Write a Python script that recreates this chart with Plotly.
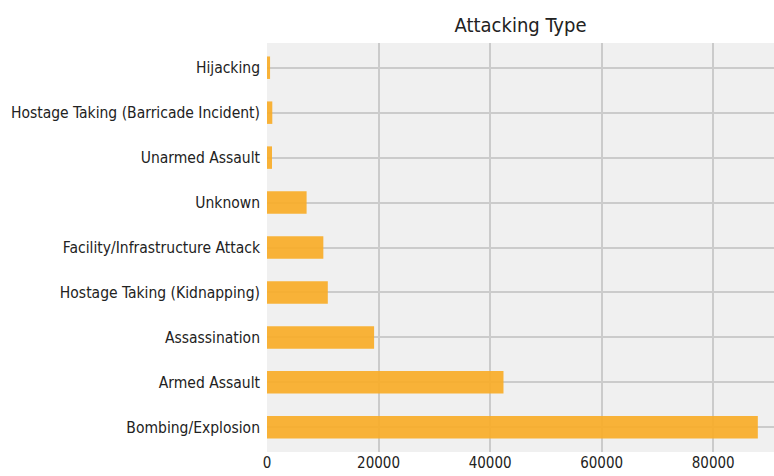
import plotly.graph_objects as go

categories = ["Bombing/Explosion", "Armed Assault", "Assassination",
              "Hostage Taking (Kidnapping)", "Facility/Infrastructure Attack",
              "Unknown", "Unarmed Assault", "Hostage Taking (Barricade Incident)",
              "Hijacking"]
counts = [88000, 42400, 19200, 10900, 10100, 7100, 900, 950, 550]
x_ticks = [0, 20000, 40000, 60000, 80000]

FONT = "DejaVu Sans Condensed, DejaVu Sans, sans-serif"

fig = go.Figure(go.Bar(
    y=list(range(len(categories))), x=counts, orientation="h", width=0.5,
    marker=dict(color="rgba(248,172,40,0.92)", line=dict(width=0)),
))
fig.update_layout(
    width=774, height=476,
    margin=dict(l=267, r=0, t=43, b=24, autoexpand=False),
    paper_bgcolor="white", plot_bgcolor="#f0f0f0",
    showlegend=False,
    title=dict(text="Attacking Type", x=(267 + 774) / 2 / 774, xanchor="center",
               y=1 - 25 / 476, yanchor="middle",
               font=dict(family=FONT, size=20, color="#222")),
    font=dict(family=FONT, size=15.5, color="#222"),
)
fig.update_xaxes(range=[0, 90900], tickvals=x_ticks, ticktext=[str(v) for v in x_ticks],
                 showgrid=True, gridcolor="#cbcbcb", gridwidth=1.5, zeroline=False,
                 ticks="", tickfont=dict(size=15), showline=False, automargin=False,
                 ticklabelstandoff=0)
fig.update_yaxes(range=[-0.55, 8.55], tickvals=list(range(len(categories))),
                 ticktext=categories, showgrid=True, gridcolor="#cbcbcb", gridwidth=1.5,
                 zeroline=False, ticks="", ticklabelstandoff=6, tickfont=dict(size=15.5),
                 automargin=False)
fig.write_html("out.html", config={"displayModeBar": False},
               post_script="document.body.style.margin='0';")
